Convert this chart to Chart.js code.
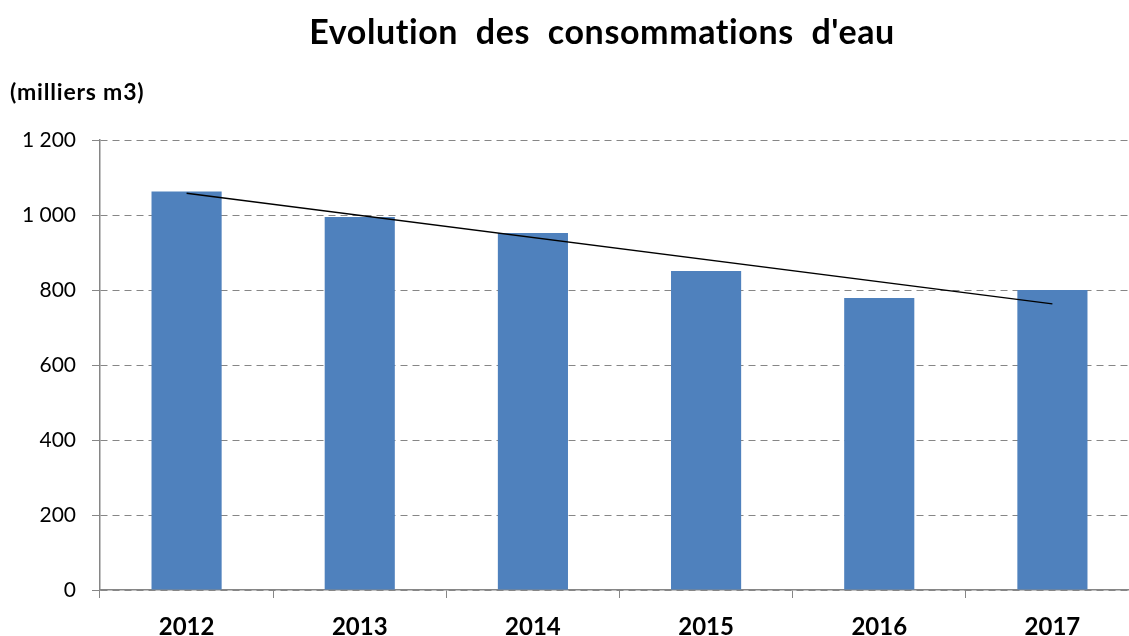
<!DOCTYPE html>
<html>
<head>
<meta charset="utf-8">
<script src="https://cdn.jsdelivr.net/npm/chart.js@4/dist/chart.umd.min.js"></script>
<style>
  html, body { margin: 0; padding: 0; background: #fff; overflow: hidden; }
  #wrap { position: relative; width: 1145px; height: 636px; }
</style>
</head>
<body>
<div id="wrap"><canvas id="chart"></canvas></div>
<script>
// data
const years = ['2012', '2013', '2014', '2015', '2016', '2017'];
const consommation = [1063, 995, 952, 851, 779, 800];
// trend line end points (2012 and 2017), gaps in between
const tendance = [1058, null, null, null, null, 763];
const yTicks = [0, 200, 400, 600, 800, 1000, 1200];

const titleText = "Evolution  des  consommations  d'eau";
const unitText = '(milliers m3)';

const AXIS = '#868686';
const FONT = 'Lato, "Open Sans", sans-serif';

// titles drawn by hand, like the sheet
const textPlugin = {
    id: 'texts',
    afterDraw(chart) {
        const ctx = chart.ctx;
        ctx.save();
        ctx.fillStyle = '#000';
        ctx.textBaseline = 'alphabetic';
        ctx.letterSpacing = '0.6px';
        ctx.font = 'bold 34px ' + FONT;
        ctx.textAlign = 'center';
        ctx.fillText(titleText, 602, 44, 605);
        ctx.letterSpacing = '0.8px';
        ctx.font = 'bold 23px ' + FONT;
        ctx.textAlign = 'left';
        ctx.fillText(unitText, 10, 100, 148);
        ctx.restore();
    }
};

new Chart(document.getElementById('chart'), {
    type: 'bar',
    data: {
        labels: years,
        datasets: [{
            type: 'line',
            data: tendance,
            borderColor: '#000',
            borderWidth: 1.5,
            pointRadius: 0,
            spanGaps: true,
            order: 0
        }, {
            data: consommation,
            backgroundColor: '#4F81BD',
            barPercentage: 0.405,
            categoryPercentage: 1,
            order: 1
        }]
    },
    options: {
        responsive: true,
        maintainAspectRatio: false,
        animation: false,
        layout: { padding: { top: 140, right: 6, left: 0, bottom: 0 } },
        plugins: {
            legend: { display: false },
            tooltip: { enabled: false }
        },
        scales: {
            x: {
                grid: {
                    offset: true,
                    drawOnChartArea: false,
                    color: AXIS,
                    tickLength: 8
                },
                border: { color: AXIS, width: 1.5 },
                ticks: {
                    color: '#000',
                    padding: 15,
                    font: { family: FONT, size: 24, weight: 'bold' }
                },
                afterFit: s => { s.height = 46; }
            },
            y: {
                min: 0,
                max: 1200,
                afterBuildTicks: s => { s.ticks = yTicks.map(v => ({ value: v })); },
                grid: {
                    color: AXIS,
                    tickLength: 8,
                    tickBorderDash: []
                },
                border: { color: AXIS, width: 1.5, dash: [7, 5] },
                ticks: {
                    color: '#000',
                    padding: 16,
                    font: { family: FONT, size: 21 },
                    callback: v => String(v).replace(/\B(?=(\d{3})+(?!\d))/g, ' ')
                },
                afterFit: s => { s.width = 100; }
            }
        }
    },
    plugins: [textPlugin]
});
</script>
</body>
</html>
